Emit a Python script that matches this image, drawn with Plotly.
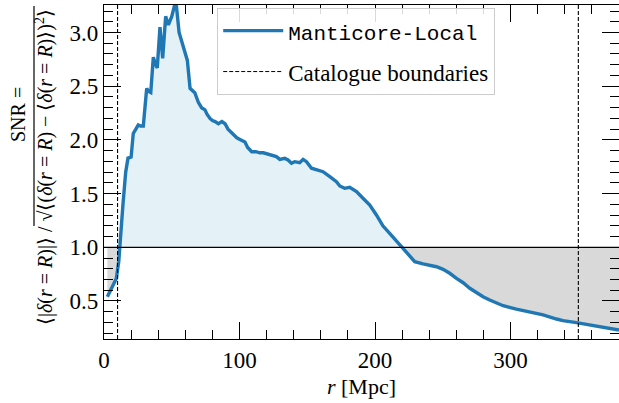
import numpy as np
import plotly.graph_objects as go

# ---------------- data ----------------
R_MPC = [2.5, 5, 7, 9.1, 10.9, 12.3, 14, 16, 17.7, 20, 21.6, 23.5, 25.3, 27, 29,
         31.5, 33, 34.5, 36.4, 38, 39.3, 41.3, 42.3, 43.3, 45.5, 46.5, 47.5, 50,
         53, 55.4, 58, 60, 61.5, 63.5, 65, 67, 69.6, 72, 74.5, 76, 78.2, 80, 82,
         84.4, 87, 89.3, 91.5, 94.2, 96, 98, 101, 104, 106, 109, 112, 115, 117.6,
         120, 122.3, 127.2, 129.7, 133.4, 135.8, 138.3, 140.7, 144.4, 146.9,
         149.4, 153.1, 156.8, 161.6, 166.6, 171.5, 174, 177.6, 181.3, 186.3,
         191.1, 196.1, 201, 205.9, 210.8, 215.8, 220.7, 225.6, 229.3, 235.4,
         240.4, 245.3, 250.2, 255.1, 260.1, 265, 269.9, 274.8, 279.7, 284.6,
         294.5, 304.3, 314.2, 324, 333.9, 338.7, 348.6, 358.5, 368.3, 380]
SNR = [0.54, 0.60, 0.65, 0.71, 0.87, 1.07, 1.40, 1.70, 1.83, 1.84, 2.06, 2.10,
       2.14, 2.13, 2.13, 2.48, 2.45, 2.44, 2.77, 2.70, 2.67, 3.05, 2.85, 2.76,
       3.15, 3.10, 3.07, 3.15, 3.30, 3.00, 2.88, 2.80, 2.74, 2.48, 2.46, 2.44,
       2.35, 2.30, 2.28, 2.24, 2.20, 2.18, 2.17, 2.15, 2.17, 2.15, 2.10, 2.07,
       2.05, 2.02, 2.00, 1.98, 1.93, 1.89, 1.89, 1.88, 1.88, 1.87, 1.86, 1.844,
       1.819, 1.828, 1.813, 1.782, 1.797, 1.788, 1.819, 1.797, 1.736, 1.720,
       1.704, 1.657, 1.611, 1.571, 1.549, 1.559, 1.518, 1.456, 1.394, 1.301,
       1.198, 1.130, 1.061, 0.991, 0.928, 0.866, 0.845, 0.835, 0.819, 0.795,
       0.758, 0.711, 0.670, 0.618, 0.577, 0.540, 0.509, 0.456, 0.425, 0.398,
       0.370, 0.332, 0.317, 0.298, 0.277, 0.255, 0.230]
THRESHOLD = 1.0
CATALOGUE_BOUNDS = [10, 350]
X_RANGE = [0, 380]
Y_RANGE = [0.146, 3.256]
SERIES_NAME = "Manticore-Local"
BOUND_NAME = "Catalogue boundaries"

# ---------------- fill geometry (derived) ----------------
x = np.array(R_MPC, float)
y = np.array(SNR, float)
fx, fy = [x[0]], [y[0]]
for i in range(1, len(x)):
    y0, y1 = y[i - 1], y[i]
    if (y0 - THRESHOLD) * (y1 - THRESHOLD) < 0:
        xc = x[i - 1] + (THRESHOLD - y0) * (x[i] - x[i - 1]) / (y1 - y0)
        fx.append(xc)
        fy.append(THRESHOLD)
    fx.append(x[i])
    fy.append(y[i])
fx = np.array(fx)
fy = np.array(fy)
upper = np.maximum(fy, THRESHOLD)
lower = np.minimum(fy, THRESHOLD)
base = np.full_like(fx, THRESHOLD)

BLUE = "#1f77b4"
SERIF = "Liberation Serif"
MONO = "Liberation Mono"

fig = go.Figure()
fig.add_trace(go.Scatter(x=fx, y=base, mode="lines", line=dict(width=0),
                         showlegend=False, hoverinfo="skip"))
fig.add_trace(go.Scatter(x=fx, y=upper, mode="lines", line=dict(width=0),
                         fill="tonexty", fillcolor="#e4f2f8",
                         showlegend=False, hoverinfo="skip"))
fig.add_trace(go.Scatter(x=fx, y=base, mode="lines", line=dict(width=0),
                         showlegend=False, hoverinfo="skip"))
fig.add_trace(go.Scatter(x=fx, y=lower, mode="lines", line=dict(width=0),
                         fill="tonexty", fillcolor="#d9d9d9",
                         showlegend=False, hoverinfo="skip"))
fig.add_trace(go.Scatter(x=x, y=y, mode="lines", line=dict(color=BLUE, width=3.4),
                         name='<span style="font-family:%s;font-size:21px">%s</span>' % (MONO, SERIES_NAME),
                         legendgroup="a"))
fig.add_trace(go.Scatter(x=[None], y=[None], mode="lines",
                         line=dict(color="black", width=1, dash="4px,2px"),
                         name=BOUND_NAME, legendgroup="b"))

fig.add_hline(y=THRESHOLD, line=dict(color="black", width=1.2))
for b in CATALOGUE_BOUNDS:
    fig.add_vline(x=b, line=dict(color="black", width=1.1, dash="4px,2px"))

axis_common = dict(showgrid=False, zeroline=False, showline=True, linecolor="black",
                   linewidth=1.2, mirror="allticks", ticks="inside", tickcolor="black",
                   tickwidth=1, ticklen=17, tickfont=dict(family=SERIF, size=23, color="black"))
fig.update_xaxes(range=X_RANGE, dtick=100, tick0=0,
                 minor=dict(ticks="inside", dtick=20, ticklen=9, tickcolor="black", tickwidth=1),
                 title=dict(text="<i>r</i> [Mpc]", font=dict(family=SERIF, size=22, color="black"),
                            standoff=6),
                 **axis_common)
fig.update_yaxes(range=Y_RANGE, dtick=0.5, tick0=0,
                 minor=dict(ticks="inside", dtick=0.1, ticklen=9, tickcolor="black", tickwidth=1),
                 tickformat=".1f",
                 **axis_common)

# y-axis label as two rotated lines
W, H = 619, 403
ML, MR, MT, MB = 104, 0, 5, 64
pw, ph = W - ML - MR, H - MT - MB

def px2paper(px, py):
    return (px - ML) / pw, (H - MB - py) / ph

ax1, ay1 = px2paper(18, 115)
fig.add_annotation(x=ax1, y=ay1, xref="paper", yref="paper", text="SNR =",
                   textangle=-90, showarrow=False, xanchor="center", yanchor="middle",
                   font=dict(family=SERIF, size=20, color="black"))
line2 = ("⟨|<i>δ</i>(<i>r</i> = <i>R</i>)|⟩ / √⟨(<i>δ</i>(<i>r</i> = <i>R</i>) − "
         "⟨<i>δ</i>(<i>r</i> = <i>R</i>)⟩)<sup>2</sup>⟩")
ax2, ay2 = px2paper(44, 167)
fig.add_annotation(x=ax2, y=ay2, xref="paper", yref="paper", text=line2,
                   textangle=-90, showarrow=False, xanchor="center", yanchor="middle",
                   font=dict(family=SERIF, size=20, color="black"))
# overline of the square root
ox, oy0 = px2paper(34, 226)
_, oy1 = px2paper(34, 6)
fig.add_shape(type="line", xref="paper", yref="paper", x0=ox, x1=ox, y0=oy0, y1=oy1,
              line=dict(color="black", width=1.2))

fig.update_layout(
    width=W, height=H,
    margin=dict(l=ML, r=MR, t=MT, b=MB),
    plot_bgcolor="white", paper_bgcolor="white",
    showlegend=True,
    legend=dict(x=(217 - ML) / pw, y=(H - MB - 8) / ph, xanchor="left", yanchor="top",
                bgcolor="rgba(255,255,255,0.85)", bordercolor="#cccccc", borderwidth=1.2,
                font=dict(family=SERIF, size=23, color="black"),
                itemwidth=60,
                tracegroupgap=8, traceorder="grouped"),
)

fig.write_html("out.html")
